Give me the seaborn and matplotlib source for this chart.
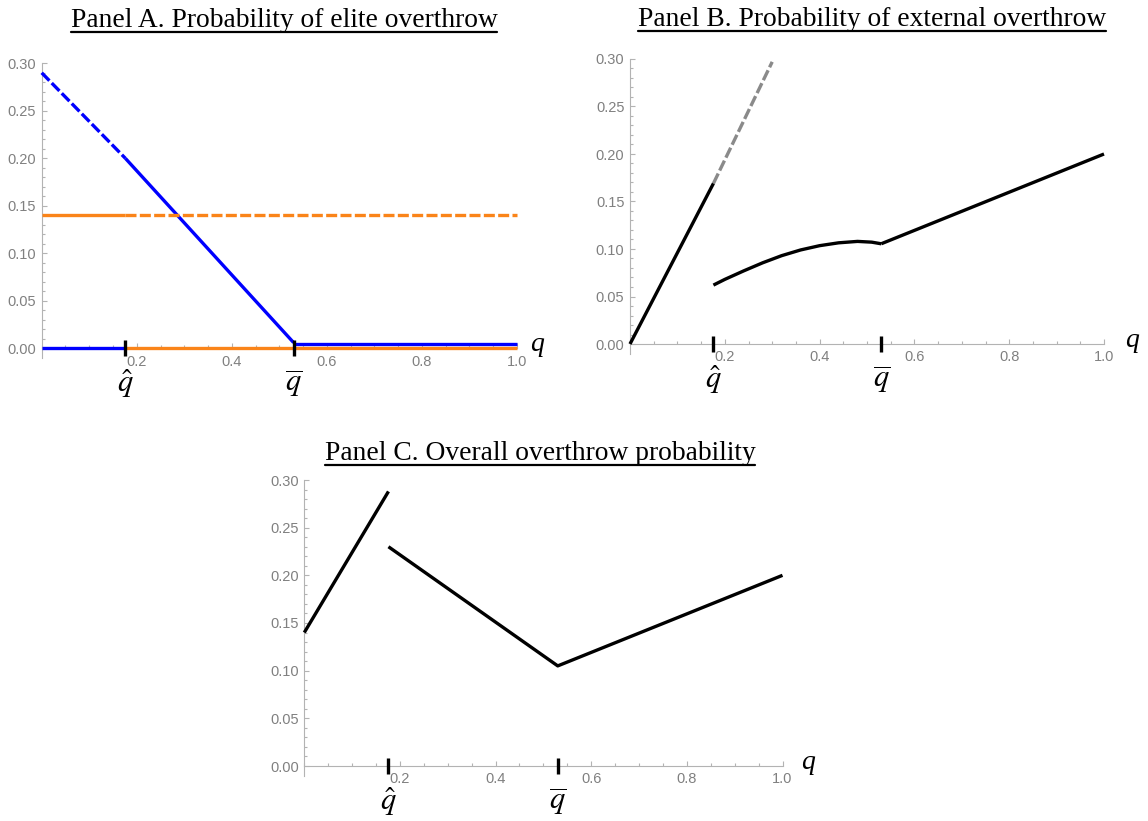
import numpy as np
import matplotlib
matplotlib.use("Agg")
import matplotlib.pyplot as plt
from matplotlib.lines import Line2D
from matplotlib.ticker import FixedLocator
import seaborn as sns

# ---------------- data ----------------
q_hat = 0.176
q_bar = 0.530

# Panel A: probability of elite overthrow
a_blue_dash_q = [0.0, q_hat]
a_blue_dash_v = [0.290, 0.200]
a_blue_diag_q = [q_hat, q_bar]
a_blue_diag_v = [0.200, 0.006]
a_blue_low_left_q = [0.0, q_hat]
a_blue_low_left_v = [0.0, 0.0]
a_blue_low_right_q = [q_bar, 1.0]
a_blue_low_right_v = [0.004, 0.004]
a_orange_solid_q = [0.0, q_hat]
a_orange_solid_v = [0.140, 0.140]
a_orange_dash_q = [q_hat, 1.0]
a_orange_dash_v = [0.140, 0.140]
a_orange_zero_q = [q_hat, 1.0]
a_orange_zero_v = [0.0, 0.0]

# Panel B: probability of external overthrow
b_line_q = [0.0, q_hat]
b_line_v = [0.0, 0.169]
b_gray_q = [q_hat, 0.300]
b_gray_v = [0.169, 0.297]
b_curve_q = [q_hat, 0.20, 0.24, 0.28, 0.32, 0.36, 0.40, 0.44, 0.48, 0.51, q_bar]
b_curve_v = [0.062, 0.068, 0.077, 0.0855, 0.093, 0.099, 0.1035, 0.1065, 0.108, 0.1072, 0.1055]
b_right_q = [q_bar, 1.0]
b_right_v = [0.1055, 0.200]

# Panel C: overall overthrow probability
c_left_q = [0.0, q_hat]
c_left_v = [0.140, 0.288]
c_right_q = [q_hat, q_bar, 1.0]
c_right_v = [0.230, 0.105, 0.200]

x_major = [0.2, 0.4, 0.6, 0.8, 1.0]
x_major_labels = ["0.2", "0.4", "0.6", "0.8", "1.0"]
y_major = [0.00, 0.05, 0.10, 0.15, 0.20, 0.25, 0.30]
y_major_labels = ["0.00", "0.05", "0.10", "0.15", "0.20", "0.25", "0.30"]
x_minor = [0.05 * i for i in range(21)]
y_minor = [0.01 * i for i in range(31)]

titles = ["Panel A. Probability of elite overthrow",
          "Panel B. Probability of external overthrow",
          "Panel C. Overall overthrow probability"]
axis_label = "q"
mark_labels = [r"$\hat{q}$", r"$\overline{q}$"]

# ---------------- style ----------------
sns.set_theme(style="white")
plt.rcParams["font.family"] = ["Liberation Sans", "DejaVu Sans"]
plt.rcParams["mathtext.fontset"] = "stix"

W, H = 1148, 821
fig = plt.figure(figsize=(W / 100, H / 100), dpi=100)
fig.patch.set_facecolor("white")

BLUE = "#0000ff"
ORANGE = "#fa8419"
GRAY = "#8a8a8a"
AXC = "#b3b3b3"
LBLC = "#808080"
LW = 2.4
DASH = (0, (3.3, 1.0))

YMIN, YMAX = -0.0105, 0.30


def make_ax(left, right, y0px, y30px):
    ppu = (y0px - y30px) / 0.30
    bottom = y0px - YMIN * ppu
    height = (YMAX - YMIN) * ppu
    ax = fig.add_axes([left / W, 1 - bottom / H, (right - left) / W, height / H])
    ax.set_xlim(0, 1.0)
    ax.set_ylim(YMIN, YMAX)
    ax.set_facecolor("white")
    for s in ["top", "right"]:
        ax.spines[s].set_visible(False)
    ax.spines["bottom"].set_position(("data", 0))
    for s in ["left", "bottom"]:
        ax.spines[s].set_color(AXC)
        ax.spines[s].set_linewidth(0.8)
        ax.spines[s].set_zorder(1)
    ax.set_xticks(x_major)
    ax.set_xticklabels(x_major_labels)
    ax.set_yticks(y_major)
    ax.set_yticklabels(y_major_labels)
    ax.xaxis.set_minor_locator(FixedLocator(x_minor))
    ax.yaxis.set_minor_locator(FixedLocator(y_minor))
    ax.tick_params(which="both", direction="in", color=AXC, width=0.8,
                   labelcolor=LBLC, labelsize=10.5, bottom=True, left=True,
                   top=False, right=False)
    ax.tick_params(which="major", length=3.8)
    ax.tick_params(which="minor", length=2.2)
    ax.tick_params(axis="x", which="major", pad=4.5)
    ax.tick_params(axis="y", which="major", pad=4)
    ax.grid(False)
    return ax


def seg(ax, xs, ys, color, ls="-", lw=LW):
    sns.lineplot(x=xs, y=ys, ax=ax, color=color, linewidth=lw, linestyle=ls,
                 zorder=3, solid_capstyle="butt", dash_capstyle="butt")


def marks(ax, qlab_dx):
    ax.vlines([q_hat, q_bar], -0.0085, 0.0085, color="black", lw=2.4, zorder=5)
    for qv, lab in zip([q_hat, q_bar], mark_labels):
        ax.annotate(lab, xy=(qv, 0), xycoords="data", xytext=(0, -31.5),
                    textcoords="offset points", ha="center", va="baseline",
                    fontsize=22, color="black", annotation_clip=False)
    ax.annotate(axis_label, xy=(1.0, 0), xycoords="data", xytext=(qlab_dx, -2),
                textcoords="offset points", ha="left", va="baseline",
                fontsize=20, color="black", family="Liberation Serif",
                style="italic", annotation_clip=False)


# Panel A
axA = make_ax(41.7, 517.0, 348.3, 63.3)
seg(axA, a_blue_low_left_q, a_blue_low_left_v, BLUE)
seg(axA, a_blue_dash_q, a_blue_dash_v, BLUE, DASH)
seg(axA, a_blue_diag_q, a_blue_diag_v, BLUE)
seg(axA, a_blue_low_right_q, a_blue_low_right_v, BLUE)
seg(axA, a_orange_solid_q, a_orange_solid_v, ORANGE)
seg(axA, a_orange_dash_q, a_orange_dash_v, ORANGE, DASH)
seg(axA, a_orange_zero_q, a_orange_zero_v, ORANGE)
marks(axA, 9.5)

# Panel B
axB = make_ax(630.0, 1104.0, 344.0, 59.0)
seg(axB, b_gray_q, b_gray_v, GRAY, DASH)
seg(axB, b_line_q, b_line_v, "black")
seg(axB, b_curve_q, b_curve_v, "black")
seg(axB, b_right_q, b_right_v, "black")
marks(axB, 15)

# Panel C
axC = make_ax(304.3, 782.5, 766.0, 480.0)
seg(axC, c_left_q, c_left_v, "black")
seg(axC, c_right_q, c_right_v, "black")
marks(axC, 13.5)

for ax in (axA, axB, axC):
    for ln in ax.get_lines():
        ln.set_clip_on(False)

# Titles with underline
title_pos = [(284, 27), (872, 26), (540, 460)]
txts = []
for (cx, by), s in zip(title_pos, titles):
    t = fig.text(cx / W, 1 - by / H, s, ha="center", va="baseline",
                 fontsize=19.8, family="Liberation Serif", color="black")
    txts.append((t, by))

fig.canvas.draw()
r = fig.canvas.get_renderer()
for t, by in txts:
    bb = t.get_window_extent(r)
    uy = 1 - (by + 5) / H
    fig.add_artist(Line2D([bb.x0 / W, bb.x1 / W], [uy, uy], transform=fig.transFigure,
                          color="black", lw=1.6))

fig.savefig("out.png", dpi=100, facecolor="white")
